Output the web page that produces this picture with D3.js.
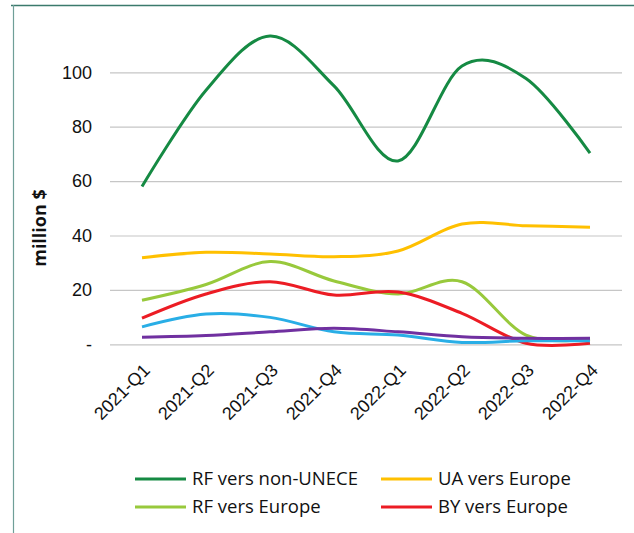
<!DOCTYPE html>
<html>
<head>
<meta charset="utf-8">
<script src="https://cdn.jsdelivr.net/npm/d3@7"></script>
<style>
  body { margin: 0; background: #fff; }
  svg { font-family: "Open Sans", "Noto Sans", sans-serif; }
</style>
</head>
<body>
<svg class="chart"></svg>
<script>
let width = 634, height = 533;

// data (million $)
let quarters = ["2021-Q1", "2021-Q2", "2021-Q3", "2021-Q4", "2022-Q1", "2022-Q2", "2022-Q3", "2022-Q4"];
let rfNonUnece = [58, 93.4, 113.3, 95, 67.4, 102.3, 97.7, 70.3];
let uaEurope = [31.8, 33.8, 33.2, 32.2, 34.3, 44.2, 43.6, 43];
let rfEurope = [16.2, 22, 30.4, 23.3, 18.5, 23, 3.4, 1.9];
let byEurope = [9.6, 18.5, 23, 18.1, 19.2, 11.4, 0.4, 0.4];
let blueSeries = [6.4, 11.1, 9.9, 4.6, 3.4, 0.7, 1.3, 1.3];
let purpleSeries = [2.6, 3.2, 4.6, 5.9, 4.6, 2.8, 2.2, 2.2];
let yTicks = [0, 20, 40, 60, 80, 100];

let series = [
  { name: "RF vers non-UNECE", values: rfNonUnece, color: "#158a43" },
  { name: "UA vers Europe", values: uaEurope, color: "#ffc000" },
  { name: "RF vers Europe", values: rfEurope, color: "#98c93c" },
  { name: "BY vers Europe", values: byEurope, color: "#ec1c24" },
  { name: null, values: blueSeries, color: "#29aee6" },
  { name: null, values: purpleSeries, color: "#7030a0" }
];

let svg = d3.select(".chart")
  .attr("width", width)
  .attr("height", height);

// frame (top and left edges visible)
svg.append("line")
  .attr("x1", 11).attr("x2", width).attr("y1", 5.5).attr("y2", 5.5)
  .style("stroke", "#3b7a6c").style("stroke-width", 1.5);
svg.append("line")
  .attr("x1", 13.5).attr("x2", 13.5).attr("y1", 5).attr("y2", height)
  .style("stroke", "#6f9f98").style("stroke-width", 1.2);

let x = d3.scalePoint()
  .domain(quarters)
  .range([110, 622])
  .padding(0.5);

let y = d3.scaleLinear()
  .domain([0, 100])
  .range([344.3, 72.3]);

// gridlines + y labels
let yAxis = svg.append("g")
  .attr("transform", "translate(110,0)")
  .call(d3.axisLeft(y).tickValues(yTicks).tickSize(-512).tickPadding(18)
    .tickFormat(d => d === 0 ? "-" : d));
yAxis.select(".domain").remove();
yAxis.selectAll(".tick line").style("stroke", "#c6c6c6").style("stroke-width", 1.2);
yAxis.selectAll(".tick text")
  .style("font-size", "18px")
  .style("fill", "#111");

svg.append("text")
  .attr("transform", "translate(46,228) rotate(-90)")
  .style("text-anchor", "middle")
  .style("font-size", "18px")
  .style("font-weight", "bold")
  .style("fill", "#111")
  .text("million $");

// x labels
let xAxis = svg.append("g")
  .attr("transform", "translate(0,344)")
  .call(d3.axisBottom(x).tickSize(0).tickPadding(0));
xAxis.select(".domain").remove();
xAxis.selectAll(".tick text")
  .attr("transform", "translate(4,23) rotate(-45)")
  .attr("dy", "0.35em")
  .style("text-anchor", "end")
  .style("font-size", "18px")
  .style("fill", "#111");

// lines
let line = d3.line()
  .x((d, i) => x(quarters[i]))
  .y(d => y(d))
  .curve(d3.curveCardinal.tension(0));

svg.append("g").selectAll("path")
  .data(series)
  .enter().append("path")
  .attr("d", d => line(d.values))
  .style("fill", "none")
  .style("stroke", d => d.color)
  .style("stroke-width", 3)
  .style("stroke-linejoin", "round");

// legend
let legendItems = series.filter(d => d.name);
let legend = svg.append("g").selectAll("g")
  .data(legendItems)
  .enter().append("g")
  .attr("transform", (d, i) => "translate(" + (i % 2 === 0 ? 135 : 381) + "," + (i < 2 ? 479 : 507) + ")");

legend.append("line")
  .attr("x1", 0).attr("x2", 51)
  .style("stroke", d => d.color)
  .style("stroke-width", 3);

legend.append("text")
  .attr("x", 57)
  .attr("dy", "0.35em")
  .style("font-size", "18.5px")
  .style("fill", "#111")
  .text(d => d.name);
</script>
</body>
</html>
